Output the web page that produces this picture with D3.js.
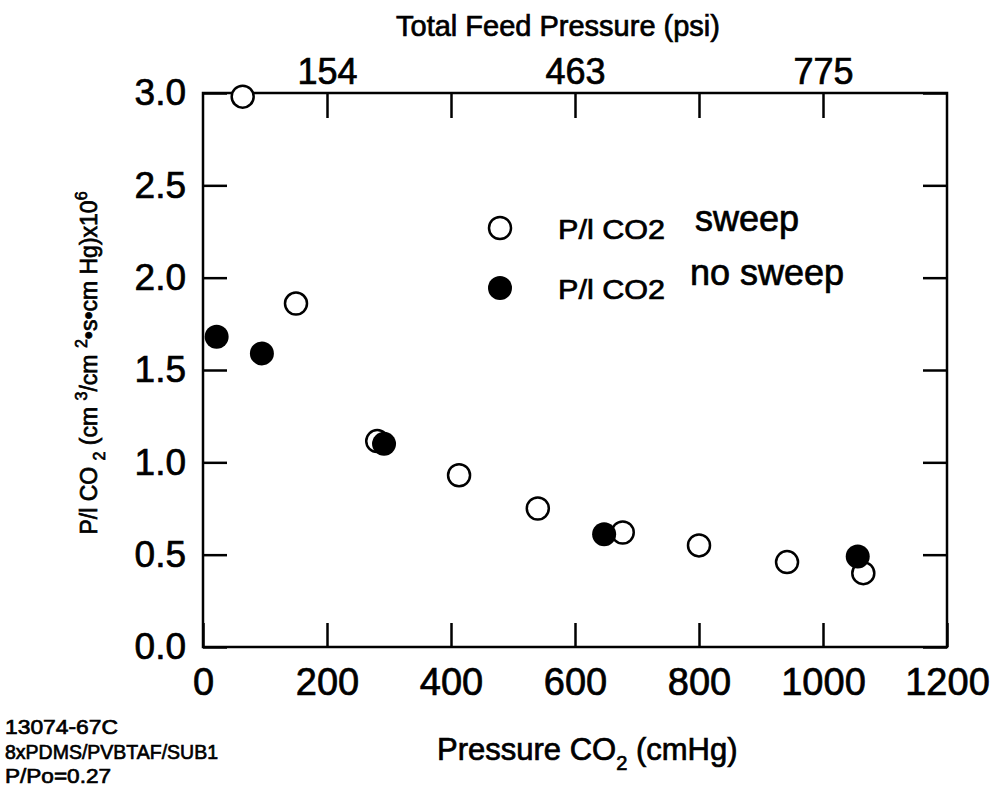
<!DOCTYPE html>
<html>
<head>
<meta charset="utf-8">
<script src="https://cdn.jsdelivr.net/npm/d3@7"></script>
<style>
  body { margin: 0; background: #fff; }
  text { font-family: "Liberation Sans", Arial, Helvetica, sans-serif; fill: #000; stroke: #000; stroke-width: 0.7px; }
</style>
</head>
<body>
<div id="chart-area"></div>
<script>
// values
var sweepPressure   = [64, 150, 281, 413, 540, 677, 800, 942, 1065];
var sweepPermeance  = [2.98, 1.86, 1.115, 0.93, 0.75, 0.62, 0.55, 0.46, 0.40];
var noSweepPressure  = [22, 95, 292, 647, 1056];
var noSweepPermeance = [1.68, 1.59, 1.10, 0.61, 0.49];

var xTicks = [0, 200, 400, 600, 800, 1000, 1200];
var yTicks = [0, 0.5, 1.0, 1.5, 2.0, 2.5, 3.0];
var topTickValues = [200, 400, 600, 800, 1000];
var topTickLabels = ["154", "", "463", "", "775"];
var noteLines = ["13074-67C", "8xPDMS/PVBTAF/SUB1", "P/Po=0.27"];

var width = 994, height = 795;
var margin = {left: 203, top: 93, right: 47, bottom: 148};
var w = width - margin.left - margin.right;
var h = height - margin.top - margin.bottom;

var svg = d3.select("#chart-area")
    .append("svg")
    .attr("width", width)
    .attr("height", height);

var g = svg.append("g")
    .attr("transform", "translate(" + margin.left + "," + margin.top + ")");

var x = d3.scaleLinear().domain([0, 1200]).range([0, w]);
var y = d3.scaleLinear().domain([0, 3.0]).range([h, 0]);

function styleAxis(sel, size) {
    sel.select(".domain").remove();
    sel.selectAll(".tick line").attr("stroke", "#000").attr("stroke-width", 2.5);
    sel.selectAll(".tick text").attr("font-size", size + "px")
        .attr("font-family", "Liberation Sans, Arial, sans-serif").attr("fill", "#000");
}

// bottom
var xAxis = g.append("g")
    .attr("transform", "translate(0," + h + ")")
    .call(d3.axisBottom(x).tickValues(xTicks).tickFormat(d3.format("d"))
        .tickSizeInner(-24).tickSizeOuter(0).tickPadding(21));
styleAxis(xAxis, 38);

// top
var topAxis = g.append("g")
    .call(d3.axisTop(x).tickValues(topTickValues)
        .tickFormat(function(d, i) { return topTickLabels[i]; })
        .tickSizeInner(-25).tickSizeOuter(0).tickPadding(9));
styleAxis(topAxis, 36);

// left
var yAxis = g.append("g")
    .call(d3.axisLeft(y).tickValues(yTicks).tickFormat(d3.format(".1f"))
        .tickSizeInner(-24).tickSizeOuter(0).tickPadding(17));
styleAxis(yAxis, 37);

// right
var rightAxis = g.append("g")
    .attr("transform", "translate(" + w + ",0)")
    .call(d3.axisRight(y).tickValues(yTicks).tickFormat("")
        .tickSizeInner(-24).tickSizeOuter(0));
styleAxis(rightAxis, 10);

// frame
g.append("rect")
    .attr("x", 0).attr("y", 0)
    .attr("width", w).attr("height", h)
    .attr("fill", "none")
    .attr("stroke", "#000")
    .attr("stroke-width", 2.5);

// points: open first, filled on top
g.selectAll(".sweep")
    .data(d3.range(sweepPressure.length))
    .enter().append("circle")
    .attr("class", "sweep")
    .attr("cx", function(i) { return x(sweepPressure[i]); })
    .attr("cy", function(i) { return y(sweepPermeance[i]); })
    .attr("r", 11)
    .attr("fill", "#fff")
    .attr("stroke", "#000")
    .attr("stroke-width", 2.5);

g.selectAll(".nosweep")
    .data(d3.range(noSweepPressure.length))
    .enter().append("circle")
    .attr("class", "nosweep")
    .attr("cx", function(i) { return x(noSweepPressure[i]); })
    .attr("cy", function(i) { return y(noSweepPermeance[i]); })
    .attr("r", 12)
    .attr("fill", "#000");

// legend
svg.append("circle").attr("cx", 500).attr("cy", 228).attr("r", 11)
    .attr("fill", "#fff").attr("stroke", "#000").attr("stroke-width", 2.5);
svg.append("circle").attr("cx", 500).attr("cy", 288).attr("r", 12).attr("fill", "#000");

svg.append("text").attr("x", 558).attr("y", 239).attr("font-size", "27px")
    .attr("textLength", 107).attr("lengthAdjust", "spacingAndGlyphs").text("P/l CO2");
svg.append("text").attr("x", 558).attr("y", 299).attr("font-size", "27px")
    .attr("textLength", 107).attr("lengthAdjust", "spacingAndGlyphs").text("P/l CO2");
svg.append("text").attr("x", 695).attr("y", 231).attr("font-size", "36px").text("sweep");
svg.append("text").attr("x", 690).attr("y", 285).attr("font-size", "36px").text("no sweep");

// axis titles
svg.append("text")
    .attr("x", 558).attr("y", 36)
    .attr("text-anchor", "middle")
    .attr("font-size", "29px")
    .text("Total Feed Pressure (psi)");

var xt = svg.append("text")
    .attr("x", 437).attr("y", 760)
    .attr("font-size", "31px");
xt.append("tspan").text("Pressure CO");
xt.append("tspan").attr("font-size", "20px").attr("dy", 10).text("2");
xt.append("tspan").attr("dy", -10).text(" (cmHg)");

var yt = svg.append("text")
    .attr("transform", "translate(97,363) rotate(-90)")
    .attr("text-anchor", "middle")
    .attr("font-size", "23px");
yt.append("tspan").text("P/l CO ");
yt.append("tspan").attr("font-size", "16px").attr("dy", 8).text("2");
yt.append("tspan").attr("dy", -8).text(" (cm ");
yt.append("tspan").attr("font-size", "16px").attr("dy", -10).text("3");
yt.append("tspan").attr("dy", 10).text("/cm ");
yt.append("tspan").attr("font-size", "16px").attr("dy", -10).text("2");
yt.append("tspan").attr("dy", 10).text("\u2022s\u2022cm Hg)x10");
yt.append("tspan").attr("font-size", "16px").attr("dy", -10).text("6");

// sample notes bottom left
var noteWidths = [113, 213, 106];
svg.selectAll(".note")
    .data(noteLines)
    .enter().append("text")
    .attr("class", "note")
    .attr("x", 5)
    .attr("y", function(d, i) { return 734 + i * 24.5; })
    .attr("font-size", "21px")
    .attr("textLength", function(d, i) { return noteWidths[i]; })
    .attr("lengthAdjust", "spacingAndGlyphs")
    .text(function(d) { return d; });
</script>
</body>
</html>
